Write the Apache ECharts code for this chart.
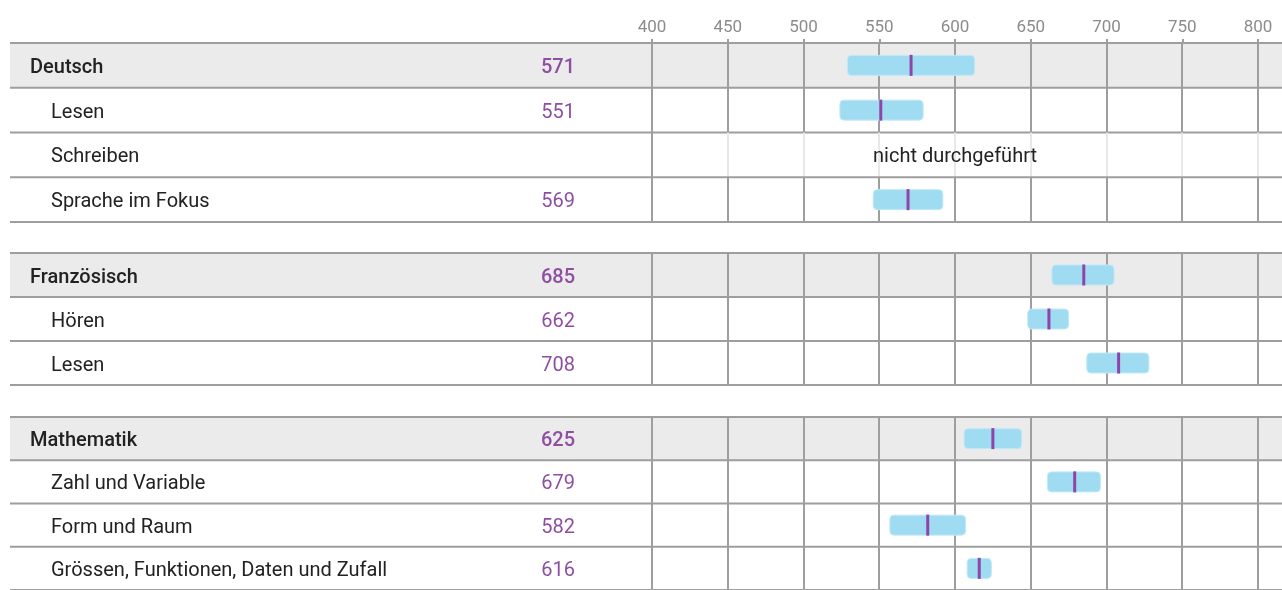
<!DOCTYPE html>
<html>
<head>
<meta charset="utf-8">
<script src="https://cdn.jsdelivr.net/npm/echarts@6/dist/echarts.min.js"></script>
<style>
  html, body { margin: 0; padding: 0; background: #fff; }
  #chart { width: 1282px; height: 590px; }
</style>
</head>
<body>
<div id="chart"></div>
<script>
// rows of the table, grouped by subject
const groups   = [0, 0, 0, 0, 1, 1, 1, 2, 2, 2, 2];
const labels   = ['Deutsch', 'Lesen', 'Schreiben', 'Sprache im Fokus',
                  'Französisch', 'Hören', 'Lesen',
                  'Mathematik', 'Zahl und Variable', 'Form und Raum', 'Grössen, Funktionen, Daten und Zufall'];
const isHeader = [true, false, false, false, true, false, false, true, false, false, false];
const means    = [571, 551, null, 569, 685, 662, 708, 625, 679, 582, 616];
const lower    = [529, 524, null, 546, 664, 648, 687, 606, 661, 557, 608];
const upper    = [613, 579, null, 592, 705, 675, 728, 644, 696, 607, 624];
const xTicks   = [400, 450, 500, 550, 600, 650, 700, 750, 800];
const missingText = 'nicht durchgeführt';

const gridTops = [43, 253, 417];
const gridHeights = [179, 132, 178];

const FONT = 'Roboto, "Noto Sans", sans-serif';
const LINE = '#9e9e9e';

const chart = echarts.init(document.getElementById('chart'), null, { renderer: 'canvas' });

function renderRow(params, api) {
  const local = api.value(0);
  const i = api.value(1);
  const W = api.getWidth();
  const yc = api.coord([400, local])[1];
  const h = api.size([0, 1])[1];
  const top = yc - h / 2;
  const bottom = yc + h / 2;
  const children = [];

  if (isHeader[i]) {
    children.push({ type: 'rect', shape: { x: 10, y: top, width: W - 10, height: h }, style: { fill: '#ebebeb' } });
  }

  const missing = means[i] === null;
  xTicks.forEach((t, k) => {
    const x = Math.round(api.coord([t, local])[0]);
    children.push({
      type: 'line',
      shape: { x1: x, y1: top, x2: x, y2: bottom },
      style: { stroke: (missing && k > 0) ? '#e8e8e8' : LINE, lineWidth: 2 }
    });
  });

  if (local === 0) {
    children.push({ type: 'line', shape: { x1: 10, y1: top, x2: W, y2: top }, style: { stroke: LINE, lineWidth: 2 } });
  }
  children.push({ type: 'line', shape: { x1: 10, y1: bottom, x2: W, y2: bottom }, style: { stroke: LINE, lineWidth: 2 } });

  const ty = yc + 2.5;
  children.push({
    type: 'text',
    style: {
      text: labels[i], x: isHeader[i] ? 30 : 51, y: ty,
      fill: '#222', font: (isHeader[i] ? '500 ' : '') + '20px ' + FONT,
      align: 'left', verticalAlign: 'middle'
    }
  });

  if (!missing) {
    children.push({
      type: 'text',
      style: {
        text: String(means[i]), x: 575, y: ty,
        fill: '#8e4fa3', font: (isHeader[i] ? '500 ' : '') + '20px ' + FONT,
        align: 'right', verticalAlign: 'middle'
      }
    });
    const x0 = api.coord([lower[i], local])[0];
    const x1 = api.coord([upper[i], local])[0];
    children.push({
      type: 'rect',
      shape: { x: x0, y: yc - 10, width: x1 - x0, height: 20, r: 4 },
      style: { fill: '#a0dcf1', stroke: '#c2e9f7', lineWidth: 1 }
    });
    const xm = api.coord([means[i], local])[0];
    children.push({
      type: 'rect',
      shape: { x: xm - 1.5, y: yc - 10.5, width: 3, height: 21 },
      style: { fill: '#8e44a8' }
    });
  } else {
    const xa = api.coord([400, local])[0];
    const xb = api.coord([800, local])[0];
    children.push({
      type: 'text',
      style: {
        text: missingText, x: (xa + xb) / 2, y: ty,
        fill: '#222', font: '20px ' + FONT,
        align: 'center', verticalAlign: 'middle'
      }
    });
  }

  return { type: 'group', children: children };
}

const grids = [], xAxes = [], yAxes = [], series = [];
[0, 1, 2].forEach(g => {
  const idx = groups.map((v, i) => v === g ? i : -1).filter(i => i >= 0);
  grids.push({ left: 652, right: 24, top: gridTops[g], height: gridHeights[g] });
  xAxes.push({
    gridIndex: g, type: 'value', min: 400, max: 800, interval: 50,
    position: 'top',
    show: g === 0,
    axisLine: { show: false },
    axisTick: { show: true, length: 4, lineStyle: { color: LINE, width: 2 } },
    axisLabel: { show: true, color: '#8c8c8c', fontSize: 17, fontFamily: FONT, margin: 7 },
    splitLine: { show: false }
  });
  yAxes.push({
    gridIndex: g, type: 'category', inverse: true, show: false,
    data: idx.map(i => labels[i])
  });
  series.push({
    type: 'custom', xAxisIndex: g, yAxisIndex: g, clip: false, silent: true,
    renderItem: renderRow,
    encode: { y: 0 },
    data: idx.map((i, k) => [k, i])
  });
});

chart.setOption({
  animation: false,
  grid: grids,
  xAxis: xAxes,
  yAxis: yAxes,
  series: series
});
</script>
</body>
</html>
